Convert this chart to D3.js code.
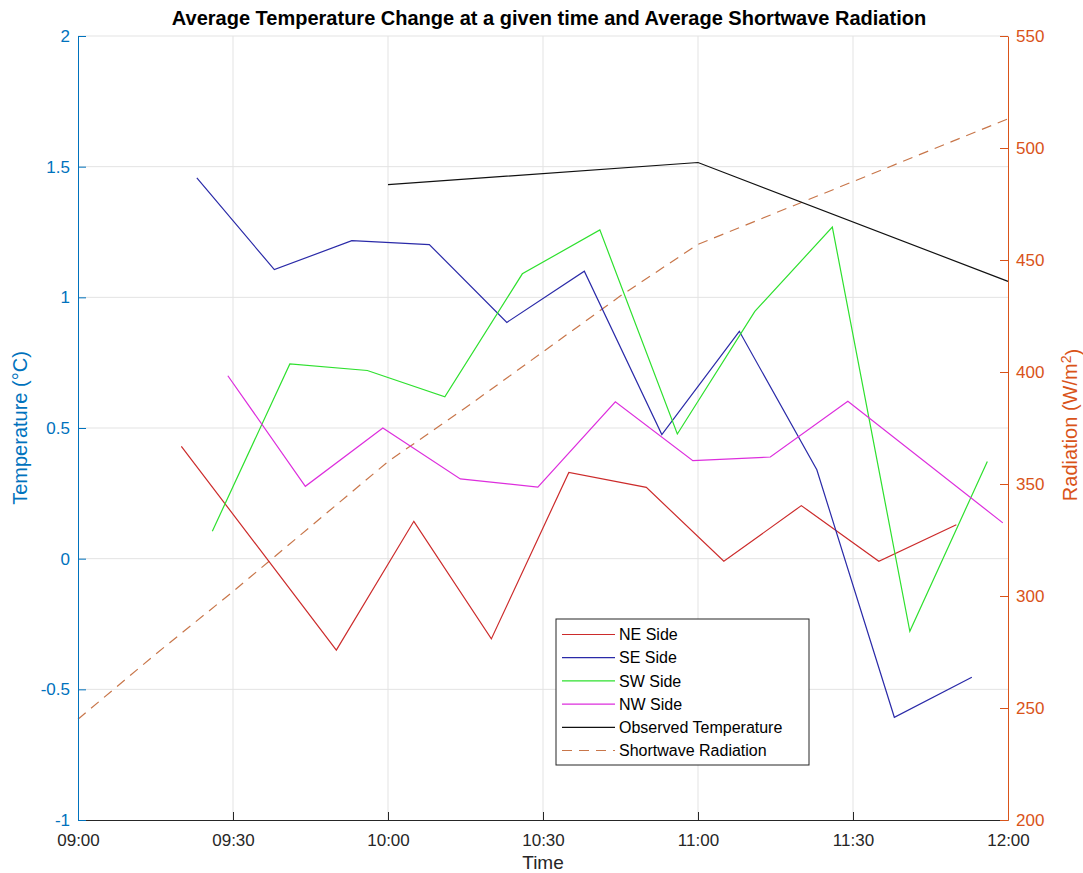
<!DOCTYPE html>
<meta charset="utf-8">
<style>
  body { margin: 0; background: #fff; }
  text { font-family: "Liberation Sans", Arial, sans-serif; }
</style>
<body>
<script src="https://d3js.org/d3.v7.min.js"></script>
<script>

// ---- data ----
var neTimes = ["09:20", "09:50", "10:05", "10:20", "10:35", "10:50", "11:05", "11:20", "11:35", "11:50"];
var neTemp  = [0.43, -0.35, 0.143, -0.307, 0.33, 0.273, -0.01, 0.203, -0.01, 0.13];

var seTimes = ["09:23", "09:38", "09:53", "10:08", "10:23", "10:38", "10:53", "11:08", "11:23", "11:38", "11:53"];
var seTemp  = [1.457, 1.106, 1.217, 1.202, 0.904, 1.10, 0.475, 0.87, 0.34, -0.607, -0.454];

var swTimes = ["09:26", "09:41", "09:56", "10:11", "10:26", "10:41", "10:56", "11:11", "11:26", "11:41", "11:56"];
var swTemp  = [0.105, 0.745, 0.72, 0.619, 1.09, 1.258, 0.477, 0.946, 1.269, -0.278, 0.372];

var nwTimes = ["09:29", "09:44", "09:59", "10:14", "10:29", "10:44", "10:59", "11:14", "11:29", "11:59"];
var nwTemp  = [0.70, 0.277, 0.5, 0.305, 0.274, 0.6, 0.375, 0.389, 0.602, 0.137];

var obsTimes = ["10:00", "11:00", "12:00"];
var obsTemp  = [1.431, 1.516, 1.061];

var radTimes = ["09:00", "09:15", "09:30", "09:45", "10:00", "10:15", "10:30", "10:45", "11:00", "11:15", "11:30", "11:45", "12:00"];
var radValues = [245, 274, 302, 331, 360, 384, 409, 434, 457, 471, 485, 499, 513];

var tempTicks = [-1, -0.5, 0, 0.5, 1, 1.5, 2];
var radTicks = [200, 250, 300, 350, 400, 450, 500, 550];

var legendLabels = ["NE Side", "SE Side", "SW Side", "NW Side", "Observed Temperature", "Shortwave Radiation"];

// ---- layout ----
var W = 1083, H = 873;
var margin = {top: 36, right: 75, bottom: 53, left: 78},
    width = W - margin.left - margin.right,
    height = H - margin.top - margin.bottom;

var leftColor = "#0072BD", rightColor = "#D95319", axisGray = "#262626";

var parseT = d3.timeParse("%H:%M");
var x = d3.scaleTime().domain([parseT("09:00"), parseT("12:00")]).range([0, width]);
var yL = d3.scaleLinear().domain([-1, 2]).range([height, 0]);
var yR = d3.scaleLinear().domain([200, 550]).range([height, 0]);

var svg = d3.select("body").append("svg")
    .attr("width", W)
    .attr("height", H);

var g = svg.append("g")
    .attr("transform", "translate(" + margin.left + "," + margin.top + ")");

// grid
var xTicks = d3.timeMinute.every(30).range(parseT("09:00"), parseT("12:01"));
g.append("g").selectAll("line").data(xTicks.slice(1, -1))
  .enter().append("line")
    .attr("x1", d => x(d)).attr("x2", d => x(d))
    .attr("y1", 0).attr("y2", height)
    .attr("stroke", "#e3e3e3").attr("stroke-width", 1);
g.append("g").selectAll("line").data(tempTicks.slice(1))
  .enter().append("line")
    .attr("x1", 0).attr("x2", width)
    .attr("y1", d => yL(d)).attr("y2", d => yL(d))
    .attr("stroke", "#e3e3e3").attr("stroke-width", 1);

// series
function series(times, vals) {
  return times.map((t, i) => ({t: parseT(t), v: vals[i]}));
}
var lineL = d3.line().x(d => x(d.t)).y(d => yL(d.v));
var lineR = d3.line().x(d => x(d.t)).y(d => yR(d.v));

var tempSeries = [
  {data: series(neTimes, neTemp), color: "#cc2b2b"},
  {data: series(seTimes, seTemp), color: "#2a2aa8"},
  {data: series(swTimes, swTemp), color: "#2ee02e"},
  {data: series(nwTimes, nwTemp), color: "#dd2edd"},
  {data: series(obsTimes, obsTemp), color: "#111111"}
];
var radColor = "#c8764a";

g.append("path")
  .datum(series(radTimes, radValues))
  .attr("d", lineR)
  .attr("fill", "none")
  .attr("stroke", radColor)
  .attr("stroke-width", 1.2)
  .attr("stroke-dasharray", "10,7");

tempSeries.forEach(function(s) {
  g.append("path")
    .datum(s.data)
    .attr("d", lineL)
    .attr("fill", "none")
    .attr("stroke", s.color)
    .attr("stroke-width", 1.2);
});

// axes
var hyphen = d => String(d).replace("\u2212", "-");

var xAxis = g.append("g")
  .attr("transform", "translate(0," + height + ")")
  .call(d3.axisTop(x).tickValues(xTicks).tickFormat(d3.timeFormat("%H:%M")).tickSize(8).tickSizeOuter(0));
xAxis.select(".domain").attr("stroke", axisGray);
xAxis.selectAll(".tick line").attr("stroke", axisGray);
xAxis.selectAll(".tick text")
  .attr("y", 20).attr("dy", "0.35em")
  .attr("fill", axisGray).style("font-size", "17px");

var leftAxis = g.append("g")
  .call(d3.axisRight(yL).tickValues(tempTicks).tickSize(8).tickSizeOuter(0).tickFormat(hyphen));
leftAxis.select(".domain").attr("stroke", leftColor);
leftAxis.selectAll(".tick line").attr("stroke", leftColor);
leftAxis.selectAll(".tick text")
  .attr("x", -8).attr("text-anchor", "end")
  .attr("fill", leftColor).style("font-size", "17px");

var rightAxis = g.append("g")
  .attr("transform", "translate(" + width + ",0)")
  .call(d3.axisLeft(yR).tickValues(radTicks).tickSize(8).tickSizeOuter(0));
rightAxis.select(".domain").attr("stroke", rightColor);
rightAxis.selectAll(".tick line").attr("stroke", rightColor);
rightAxis.selectAll(".tick text")
  .attr("x", 8).attr("text-anchor", "start")
  .attr("fill", rightColor).style("font-size", "17px");

// labels
svg.append("text")
  .attr("x", margin.left + width / 2 + 6).attr("y", 25)
  .attr("text-anchor", "middle")
  .style("font-size", "20px").style("font-weight", "bold")
  .attr("fill", "#000")
  .text("Average Temperature Change at a given time and Average Shortwave Radiation");

svg.append("text")
  .attr("x", margin.left + width / 2).attr("y", 869)
  .attr("text-anchor", "middle")
  .style("font-size", "19px").attr("fill", axisGray)
  .text("Time");

svg.append("text")
  .attr("transform", "translate(27," + (margin.top + height / 2) + ") rotate(-90)")
  .attr("text-anchor", "middle")
  .style("font-size", "20px").attr("fill", leftColor)
  .text("Temperature (°C)");

var rl = svg.append("text")
  .attr("transform", "translate(1077," + (margin.top + height / 2 - 3) + ") rotate(-90)")
  .attr("text-anchor", "middle")
  .style("font-size", "20px").attr("fill", rightColor);
rl.append("tspan").text("Radiation (W/m");
rl.append("tspan").attr("dy", "-0.45em").style("font-size", "14px").text("2");
rl.append("tspan").attr("dy", "0.45em").text(")");

// legend
var legendColors = tempSeries.map(s => s.color).concat([radColor]);
var lg = svg.append("g").attr("transform", "translate(556,619)");
lg.append("rect")
  .attr("width", 253).attr("height", 146)
  .attr("fill", "#fff").attr("stroke", "#262626").attr("stroke-width", 1);
legendLabels.forEach(function(lab, i) {
  var yy = 15.5 + i * 23.2;
  lg.append("line")
    .attr("x1", 6).attr("x2", 59).attr("y1", yy).attr("y2", yy)
    .attr("stroke", legendColors[i]).attr("stroke-width", 1.2)
    .attr("stroke-dasharray", i == 5 ? "10,7" : null);
  lg.append("text")
    .attr("x", 63).attr("y", yy).attr("dy", "0.35em")
    .style("font-size", "16px").attr("fill", "#000")
    .text(lab);
});

</script>
</body>
